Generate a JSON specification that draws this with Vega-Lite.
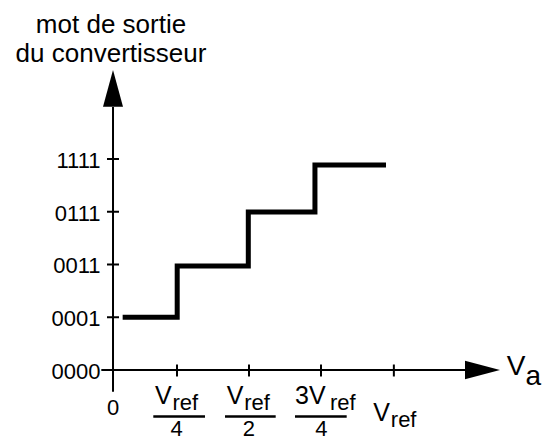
{
  "$schema": "https://vega.github.io/schema/vega-lite/v6.json",
  "width": 560,
  "height": 440,
  "padding": 0,
  "autosize": {"type": "none"},
  "background": "white",
  "config": {"view": {"stroke": null}, "text": {"font": "Liberation Sans", "color": "black"}},
  "encoding": {
    "x": {"field": "x", "type": "quantitative", "axis": null, "scale": {"domain": [-0.3646, 1.5799], "nice": false, "zero": false}},
    "y": {"field": "y", "type": "quantitative", "axis": null, "scale": {"domain": [-1.327, 7.014], "nice": false, "zero": false}}
  },
  "layer": [
    {
      "data": {"values": [
        {"x": -0.0128, "x2": 1.2535, "y": 0, "y2": 0},
        {"x": 0.0278, "x2": 0.0278, "y": -0.411, "y2": 4.986},
        {"x": 0.0069, "x2": 0.0486, "y": 1, "y2": 1},
        {"x": 0.0069, "x2": 0.0486, "y": 2, "y2": 2},
        {"x": 0.0069, "x2": 0.0486, "y": 3, "y2": 3},
        {"x": 0.0069, "x2": 0.0486, "y": 4, "y2": 4},
        {"x": 0.25, "x2": 0.25, "y": 0.104, "y2": -0.123},
        {"x": 0.5, "x2": 0.5, "y": 0.104, "y2": -0.123},
        {"x": 0.75, "x2": 0.75, "y": 0.104, "y2": -0.123},
        {"x": 1.003, "x2": 1.003, "y": 0.104, "y2": -0.123}
      ]},
      "mark": {"type": "rule", "color": "black", "strokeWidth": 2},
      "encoding": {"x2": {"field": "x2"}, "y2": {"field": "y2"}}
    },
    {
      "data": {"values": [
        {"x": 0.1677, "x2": 0.3472, "y": -0.8815, "y2": -0.8815},
        {"x": 0.4167, "x2": 0.5927, "y": -0.8815, "y2": -0.8815},
        {"x": 0.6597, "x2": 0.8392, "y": -0.8815, "y2": -0.8815}
      ]},
      "mark": {"type": "rule", "color": "black", "strokeWidth": 2.5},
      "encoding": {"x2": {"field": "x2"}, "y2": {"field": "y2"}}
    },
    {
      "data": {"values": [
        {"x": 0.0613, "y": 1.0},
        {"x": 0.2507, "y": 1.97},
        {"x": 0.4976, "y": 2.995},
        {"x": 0.729, "y": 3.886},
        {"x": 0.9757, "y": 3.886}
      ]},
      "mark": {"type": "line", "color": "black", "strokeWidth": 5, "interpolate": "step-after", "strokeCap": "butt", "strokeJoin": "miter"},
      "encoding": {}
    },
    {
      "data": {"values": [{"x": 0.0278, "y": 5.339}]},
      "mark": {"type": "point", "filled": true, "color": "black", "opacity": 1, "strokeWidth": 0, "shape": "M0,-1L0.545,1L-0.545,1Z", "size": 1347},
      "encoding": {}
    },
    {
      "data": {"values": [{"x": 1.3108, "y": 0}]},
      "mark": {"type": "point", "filled": true, "color": "black", "opacity": 1, "strokeWidth": 0, "shape": "M1,0L-1,0.53L-1,-0.53Z", "size": 1225},
      "encoding": {}
    },
    {
      "data": {"values": [
        {"x": 0.0208, "y": 6.389, "label": "mot de sortie"},
        {"x": 0.0208, "y": 5.839, "label": "du convertisseur"}
      ]},
      "mark": {"type": "text", "fontSize": 26, "align": "center", "baseline": "alphabetic"},
      "encoding": {"text": {"field": "label"}}
    },
    {
      "data": {"values": [
        {"x": -0.0156, "y": 0, "label": "0000"},
        {"x": -0.0156, "y": 1, "label": "0001"},
        {"x": -0.0156, "y": 2, "label": "0011"},
        {"x": -0.0156, "y": 3, "label": "0111"},
        {"x": -0.0156, "y": 4, "label": "1111"}
      ]},
      "mark": {"type": "text", "fontSize": 22, "align": "right", "baseline": "middle", "dy": 2},
      "encoding": {"text": {"field": "label"}}
    },
    {
      "data": {"values": [
        {"x": 0.0278, "y": -0.853, "label": "0"},
        {"x": 0.2483, "y": -1.2417, "label": "4"},
        {"x": 0.5, "y": -1.2417, "label": "2"},
        {"x": 0.7517, "y": -1.2417, "label": "4"}
      ]},
      "mark": {"type": "text", "fontSize": 22, "align": "center", "baseline": "alphabetic"},
      "encoding": {"text": {"field": "label"}}
    },
    {
      "data": {"values": [
        {"x": 0.1736, "y": -0.639, "label": "V"},
        {"x": 0.4226, "y": -0.639, "label": "V"},
        {"x": 0.6597, "y": -0.639, "label": "3V"},
        {"x": 0.9316, "y": -0.967, "label": "V"}
      ]},
      "mark": {"type": "text", "fontSize": 25, "align": "left", "baseline": "alphabetic"},
      "encoding": {"text": {"field": "label"}}
    },
    {
      "data": {"values": [
        {"x": 0.2344, "y": -0.764, "label": "ref"},
        {"x": 0.4833, "y": -0.764, "label": "ref"},
        {"x": 0.7813, "y": -0.764, "label": "ref"},
        {"x": 0.9924, "y": -1.09, "label": "ref"}
      ]},
      "mark": {"type": "text", "fontSize": 22, "align": "left", "baseline": "alphabetic"},
      "encoding": {"text": {"field": "label"}}
    },
    {
      "data": {"values": [
        {"x": 1.3948, "y": -0.0948, "label": "V"},
        {"x": 1.46, "y": -0.2844, "label": "a"}
      ]},
      "mark": {"type": "text", "fontSize": 28, "align": "left", "baseline": "alphabetic"},
      "encoding": {"text": {"field": "label"}}
    }
  ]
}
